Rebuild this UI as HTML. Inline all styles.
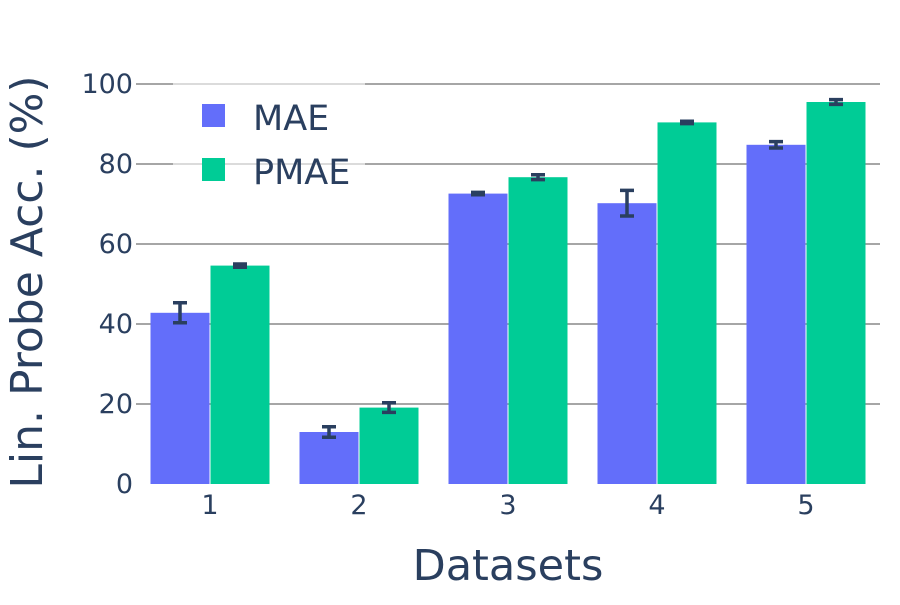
<!DOCTYPE html>
<html><head><meta charset="utf-8"><style>
body{margin:0;background:#fff}
svg text{font-family:"DejaVu Sans","Liberation Sans",sans-serif;fill:#2a3f5f}
</style></head><body>
<svg width="900" height="600">
<g id="grid"></g>
<g id="bars"></g>
<g id="yt"></g>
<g id="xt"></g>
<text x="508" y="580" font-size="43" text-anchor="middle">Datasets</text>
<text transform="translate(42,282) rotate(-90)" font-size="44" text-anchor="middle">Lin. Probe Acc. (%)</text>
<g>
<rect x="173" y="82" width="192" height="108" fill="#fff" opacity="0.6"/>
<rect x="202" y="104" width="23" height="23" fill="#636efa"/>
<text x="253" y="130" font-size="35">MAE</text>
<rect x="202" y="158" width="23" height="23" fill="#00cc96"/>
<text x="253" y="184" font-size="35">PMAE</text>
</g>
</svg>
<script>
const categories=["1","2","3","4","5"];
const maeValues=[42.8,13,72.6,70.2,84.8];
const maeErrors=[2.5,1.3,0.3,3.2,0.8];
const pmaeValues=[54.6,19.1,76.7,90.4,95.5];
const pmaeErrors=[0.4,1.2,0.6,0.3,0.6];
const yTicks=[0,20,40,60,80,100];
const NS="http://www.w3.org/2000/svg";
const x0=136,x1=880,y0=484,ymax=100,yTop=84;
const y=v=>y0-(v/ymax)*(y0-yTop);
const cx=i=>210+i*149;
function mk(t,a,p){const e=document.createElementNS(NS,t);for(const k in a)e.setAttribute(k,a[k]);document.getElementById(p).appendChild(e);return e;}
yTicks.forEach(t=>{
 if(t>0){const l=mk('line',{x1:x0,x2:x1,y1:y(t),y2:y(t),stroke:'#888','stroke-width':1.5},'grid');
 
 }
 const tx=mk('text',{x:133,y:y(t)+9,'font-size':27,'text-anchor':'end'},'yt');tx.textContent=t;
 
 
});
const bw=59;
function series(vals,errs,off,color,name){
 vals.forEach((v,i)=>{
  const bx=cx(i)+off;
  const r=mk('rect',{x:bx,y:y(v),width:bw,height:y0-y(v),fill:color},'bars');
  
  
  const m=bx+bw/2,e=errs[i];
  const g=mk('path',{d:`M${m},${y(v+e)}V${y(v-e)}M${m-7},${y(v+e)}H${m+7}M${m-7},${y(v-e)}H${m+7}`,stroke:'#2a3f5f','stroke-width':3.5,fill:'none'},'bars');
  
  
 });
}
series(maeValues,maeErrors,-59.5,'#636efa','mae');
series(pmaeValues,pmaeErrors,0.5,'#00cc96','pmae');
categories.forEach((c,i)=>{
 const t=mk('text',{x:cx(i),y:514,'font-size':27,'text-anchor':'middle'},'xt');t.textContent=c;
 
 
});
</script>
</body></html>
